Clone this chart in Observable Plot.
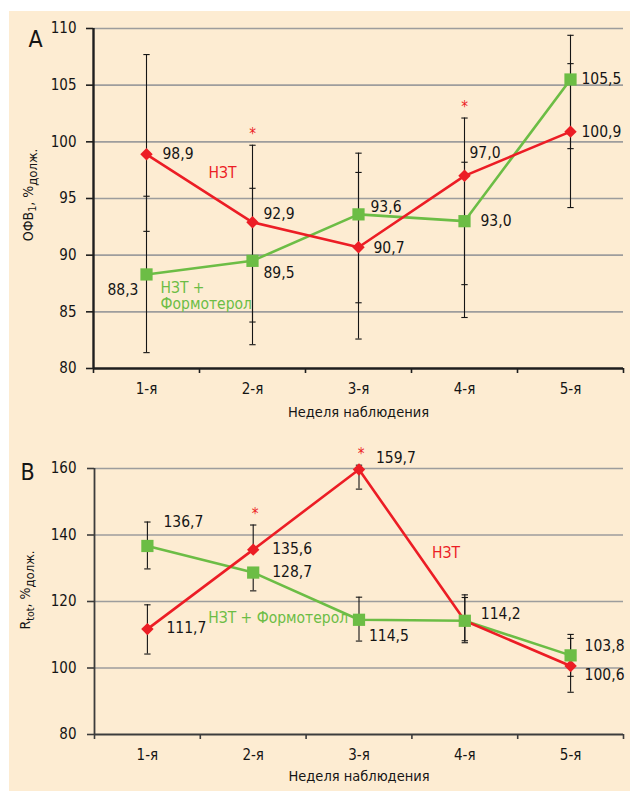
<!DOCTYPE html>
<html><head><meta charset="utf-8">
<script src="https://cdn.jsdelivr.net/npm/d3@7"></script>
<script src="https://cdn.jsdelivr.net/npm/@observablehq/plot@0.6"></script>
<style>
body{margin:0;background:#fff;}
#page{position:relative;width:630px;height:791px;background:#fff;overflow:hidden;font-family:"Liberation Sans Narrow","DejaVu Sans Condensed",sans-serif;}
#bg{position:absolute;left:9px;top:11px;width:621px;height:780px;background:#FDECD2;}
#a,#b{position:absolute;left:0;}
#a{top:0px;} #b{top:430px;}
</style></head><body>
<div id="page"><div id="bg"></div><div id="a"></div><div id="b"></div></div>
<script>
// ---- data ----
const weeks = ["1-я", "2-я", "3-я", "4-я", "5-я"];
const seriesNames = ["НЗТ", "НЗТ + Формотерол"];

// Panel A: ОФВ1, %долж.
const fevTicks = [80, 85, 90, 95, 100, 105, 110];
const fevNzt = [98.9, 92.9, 90.7, 97.0, 100.9];
const fevNztLo = [92.1, 84.1, 82.6, 87.4, 94.2];
const fevNztHi = [107.7, 99.7, 99.0, 102.1, 106.9];
const fevCombo = [88.3, 89.5, 93.6, 93.0, 105.5];
const fevComboLo = [81.4, 82.1, 85.8, 84.5, 99.4];
const fevComboHi = [95.2, 95.9, 97.3, 98.2, 109.4];
const fevStars = [false, true, false, true, false];

// Panel B: Rtot, %долж.
const rtotTicks = [80, 100, 120, 140, 160];
const rtotNzt = [111.7, 135.6, 159.7, 114.2, 100.6];
const rtotNztLo = [104.2, 135.6, 153.8, 107.6, 92.7];
const rtotNztHi = [119.0, 143.0, 161.0, 122.0, 108.9];
const rtotCombo = [136.7, 128.7, 114.5, 114.2, 103.8];
const rtotComboLo = [129.8, 123.2, 108.1, 108.2, 97.5];
const rtotComboHi = [143.9, 128.7, 121.3, 121.2, 110.1];
const rtotStars = [false, true, true, false, false];

// ---- drawing ----
const RED = "#ec1d25", GREEN = "#6cbd45", INK = "#151515";
const FONT = '"Liberation Sans Narrow","DejaVu Sans Condensed",sans-serif';
const LBL = 15.5;
const fmt = v => v.toFixed(1).replace(".", ",");

function rows(vals, lo, hi, stars) {
  return vals.map((v, i) => ({x: i + 1, v, lo: lo[i], hi: hi[i], star: stars ? stars[i] : false}));
}

function drawPanel(cfg) {
  const nzt = rows(cfg.nzt, cfg.nztLo, cfg.nztHi, cfg.stars);
  const combo = rows(cfg.combo, cfg.comboLo, cfg.comboHi);
  const centers = weeks.map((w, i) => i + 1);
  const bounds = d3.range(0, weeks.length + 1).map(i => i + 0.5);
  const capW = 0.03;
  const errMarks = data => [
    Plot.ruleX(data, {x: "x", y1: "lo", y2: "hi", stroke: INK, strokeWidth: 1.1}),
    Plot.link(data, {x1: d => d.x - capW, x2: d => d.x + capW, y1: "lo", y2: "lo", stroke: INK, strokeWidth: 1.1}),
    Plot.link(data, {x1: d => d.x - capW, x2: d => d.x + capW, y1: "hi", y2: "hi", stroke: INK, strokeWidth: 1.1})
  ];
  const labelMarks = (data, offs) => data.map((d, i) => offs[i] ? Plot.text([d], {
    x: "x", y: "v", text: d => fmt(d.v), dx: offs[i][0], dy: offs[i][1],
    textAnchor: offs[i][2] || "start", fontSize: LBL, fill: INK
  }) : null);
  const base = cfg.domain[0];
  const chart = Plot.plot({
    width: 630, height: cfg.height,
    marginTop: cfg.mt, marginBottom: cfg.mb, marginLeft: cfg.ml, marginRight: 7,
    x: {domain: [0.5, weeks.length + 0.5], axis: null},
    y: {domain: cfg.domain, axis: null},
    style: {background: "transparent", fontFamily: FONT, color: INK, overflow: "visible"},
    marks: [
      Plot.gridY(cfg.ticks.filter(t => t !== base), {stroke: "#9d9d9d", strokeOpacity: 1, strokeWidth: 1.6}),
      Plot.axisY({ticks: cfg.ticks, tickSize: 7, tickPadding: cfg.tickPad, fontSize: 15, label: null, stroke: cfg.axisColor, strokeWidth: 1.6}),
      Plot.axisX({ticks: centers, tickSize: 0, tickPadding: 15, tickFormat: i => weeks[i - 1], fontSize: 15, label: null}),
      Plot.axisX({ticks: bounds, tickSize: 5, tickFormat: () => "", label: null, stroke: cfg.axisColor, strokeWidth: 1.6}),
      Plot.ruleX([0.5], {stroke: cfg.axisColor, strokeWidth: cfg.axisWidth}),
      Plot.ruleY([base], {stroke: cfg.axisColor, strokeWidth: cfg.axisWidth}),
      ...errMarks(nzt), ...errMarks(combo),
      Plot.line(combo, {x: "x", y: "v", stroke: GREEN, strokeWidth: 2.6}),
      Plot.line(nzt, {x: "x", y: "v", stroke: RED, strokeWidth: 2.6}),
      Plot.dot(nzt, {x: "x", y: "v", symbol: "diamond2", r: 5.6, fill: RED}),
      Plot.dot(combo, {x: "x", y: "v", symbol: "square", r: 6.9, fill: GREEN}),
      ...labelMarks(nzt, cfg.nztOffs), ...labelMarks(combo, cfg.comboOffs),
      Plot.text(nzt.filter(d => d.star), {x: "x", y: "hi", text: () => "*", dx: cfg.starDx, dy: -11, fontSize: 15, fill: RED}),
      Plot.text([nzt[cfg.nztName[0]]], {x: "x", y: "v", text: () => seriesNames[0], dx: cfg.nztName[1], dy: cfg.nztName[2], textAnchor: "start", fontSize: LBL, fill: RED}),
      Plot.text([combo[cfg.comboName[0]]], {x: "x", y: "v", text: () => cfg.comboText, dx: cfg.comboName[1], dy: cfg.comboName[2], textAnchor: "start", fontSize: LBL, lineHeight: 1.05, fill: GREEN}),
      Plot.text(["Неделя наблюдения"], {frameAnchor: "bottom", dy: cfg.xTitleDy, text: d => d, fontSize: 14.5, fill: INK}),
      Plot.text([cfg.letter], {frameAnchor: "top-left", dx: cfg.letterPos[0], dy: cfg.letterPos[1], text: d => d, textAnchor: "middle", lineAnchor: "middle", fontSize: 23, fill: INK})
    ]
  });
  // rich y-axis title with subscripts
  const svg = d3.select(chart);
  const t = svg.append("text")
    .attr("transform", `translate(${cfg.yTitle.x},${cfg.yTitle.y}) rotate(-90)`)
    .attr("text-anchor", "middle").attr("fill", INK)
    .style("font-family", FONT).style("font-size", "14px");
  t.append("tspan").text(cfg.yTitle.main);
  t.append("tspan").attr("font-size", "10.5px").attr("dy", cfg.yTitle.subDy).text(cfg.yTitle.sub);
  t.append("tspan").attr("dy", -cfg.yTitle.subDy).text(", %");
  t.append("tspan").attr("font-size", "13px").attr("dy", 4).text("долж.");
  return chart;
}

document.getElementById("a").appendChild(drawPanel({
  letter: "A", letterPos: [-58, 11],
  height: 430, mt: 28, mb: 62, ml: 93, tickPad: 10,
  domain: [80, 110], ticks: fevTicks, axisColor: "#1e1e1e", axisWidth: 2.4,
  nzt: fevNzt, nztLo: fevNztLo, nztHi: fevNztHi, stars: fevStars,
  combo: fevCombo, comboLo: fevComboLo, comboHi: fevComboHi,
  nztOffs: [[16, 0], [11, -8], [15, 1], [5, -23], [11, 0]],
  comboOffs: [[-8, 16, "end"], [11, 12], [12, -7], [16, 0], [11, 0]],
  starDx: 0,
  nztName: [0, 62, 19], comboName: [0, 14, 21], comboText: "НЗТ +\nФормотерол",
  xTitleDy: 48,
  yTitle: {x: 33, y: 195, main: "ОФВ", sub: "1", subDy: 3}
}));

document.getElementById("b").appendChild(drawPanel({
  letter: "B", letterPos: [-67, 4],
  height: 361, mt: 38, mb: 57, ml: 94, tickPad: 11,
  domain: [80, 160], ticks: rtotTicks, axisColor: "#3c3c3c", axisWidth: 1.8,
  nzt: rtotNzt, nztLo: rtotNztLo, nztHi: rtotNztHi, stars: rtotStars,
  combo: rtotCombo, comboLo: rtotComboLo, comboHi: rtotComboHi,
  nztOffs: [[19, -1], [19, -1], [17, -11], null, [14, 9]],
  comboOffs: [[16, -24], [19, -1], [10, 16], [16, -7], [14, -9]],
  starDx: 2,
  nztName: [2, 73, 84], comboName: [1, -45, 45], comboText: "НЗТ + Формотерол",
  xTitleDy: 46,
  yTitle: {x: 30, y: 160, main: "R", sub: "tot", subDy: 4}
}));
</script>
</body></html>
